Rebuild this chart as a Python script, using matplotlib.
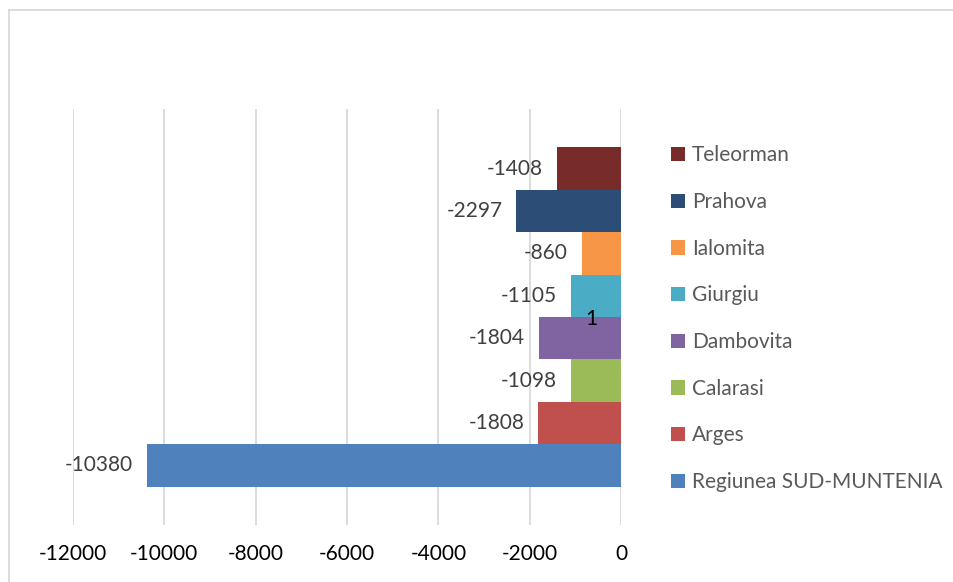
import matplotlib.pyplot as plt
from matplotlib.patches import Patch
from matplotlib.lines import Line2D

plt.rcParams['font.family'] = ['Lato', 'DejaVu Sans']

# date
judete = ['Regiunea SUD-MUNTENIA', 'Arges', 'Calarasi', 'Dambovita',
          'Giurgiu', 'Ialomita', 'Prahova', 'Teleorman']
valori = [-10380, -1808, -1098, -1804, -1105, -860, -2297, -1408]
culori = ['#4F81BD', '#C0504D', '#9BBB59', '#8064A2',
          '#4BACC6', '#F79646', '#2C4D75', '#772C2A']
categorie = ['1']
x_ticks = [-12000, -10000, -8000, -6000, -4000, -2000, 0]

FS = 15

W, H = 954, 582
fig = plt.figure(figsize=(W / 100, H / 100), dpi=100)
ax = fig.add_axes([73 / W, 1 - 525 / H, (621 - 73) / W, (525 - 109) / H])

n = len(valori)
grup = 0.815
h = grup / n
for i, (nume, v, c) in enumerate(zip(judete, valori, culori)):
    yc = -grup / 2 + (i + 0.5) * h
    ax.barh(yc, v, height=h, color=c, label=nume, zorder=3)
    ax.text(v - 300, yc, str(v), ha='right', va='center',
            fontsize=FS, color='#404040', zorder=4)

ax.set_xlim(-12000, 0)
ax.set_ylim(-0.5, 0.5)
ax.spines['left'].set_position(('data', 0))
for s in ax.spines.values():
    s.set_visible(False)

ax.set_xticks(x_ticks)
ax.set_xticklabels([str(t) for t in x_ticks], fontsize=FS, color='#000000')
ax.tick_params(axis='x', length=0, pad=14)
ax.grid(axis='x', color='#D9D9D9', linewidth=1.3, zorder=0)

# eticheta categoriei langa axa de la 0
ax.set_yticks([0])
ax.set_yticklabels(categorie)
ax.tick_params(axis='y', length=0, pad=17, labelsize=FS, labelcolor='#000000')
ax.yaxis.set_zorder(5)

handles = [Patch(facecolor=c, label=nume) for nume, c in zip(judete, culori)][::-1]
leg = fig.legend(handles=handles, loc='upper left', bbox_to_anchor=(661 / W, 1 - 135 / H),
                 frameon=False, fontsize=FS, handlelength=0.67, handleheight=0.67,
                 handletextpad=0.3, labelspacing=1.28, borderpad=0)
for t in leg.get_texts():
    t.set_color('#595959')

# chenarul graficului
fig.add_artist(Line2D([9 / W, 1], [1 - 10 / H, 1 - 10 / H], color='#D9D9D9', lw=1.3))
fig.add_artist(Line2D([9 / W, 9 / W], [0, 1 - 10 / H], color='#D9D9D9', lw=1.3))

fig.savefig('out.png', dpi=100, facecolor='white')
